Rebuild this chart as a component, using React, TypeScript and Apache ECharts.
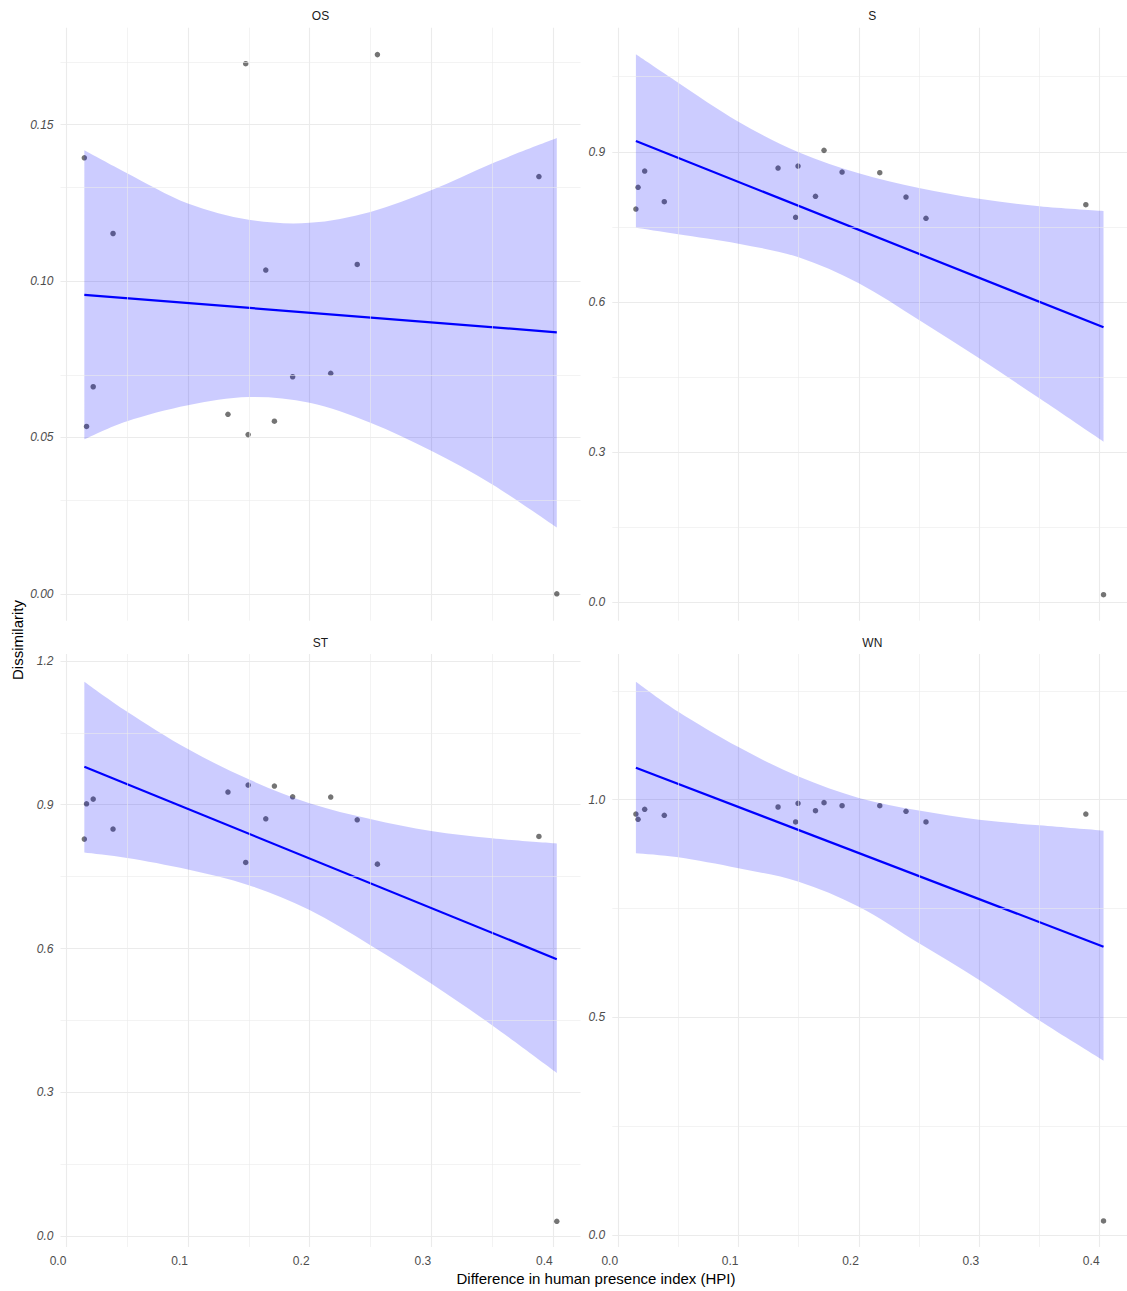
import React, { useEffect, useRef } from 'react';
import * as echarts from 'echarts';

// ---------- data ----------
const xValues = [0.0148, 0.0166, 0.0221, 0.0384, 0.1329, 0.1475, 0.1495, 0.164, 0.1711, 0.1861, 0.2174, 0.2392, 0.2558, 0.3886, 0.4033];

const osValues = [0.1394, 0.0535, 0.0662, 0.1152, 0.0574, 0.1695, 0.0509, 0.1035, 0.0552, 0.0694, 0.0705, 0.1053, 0.1724, 0.1334, 0.0];
const sValues = [0.7855, 0.8289, 0.8615, 0.8001, 0.8675, 0.7689, 0.8715, 0.8109, 0.9028, 0.8595, 0.8581, 0.8095, 0.7669, 0.7941, 0.0146];
const stValues = [0.8283, 0.902, 0.9117, 0.8492, 0.9264, 0.7797, 0.941, 0.8707, 0.9389, 0.9166, 0.9159, 0.8686, 0.7761, 0.8339, 0.0313];
const wnValues = [0.9671, 0.9549, 0.9779, 0.9641, 0.9832, 0.9488, 0.9917, 0.9748, 0.9932, 0.9863, 0.9863, 0.9733, 0.9488, 0.9671, 0.0322];

// confidence band, read at these x positions
const bandX = [0.0148, 0.05, 0.1, 0.15, 0.2, 0.25, 0.3, 0.35, 0.4033];
const osUpper = [0.1418, 0.1345, 0.1248, 0.1196, 0.1186, 0.1221, 0.129, 0.1376, 0.1457];
const osLower = [0.0494, 0.0552, 0.0603, 0.0629, 0.0611, 0.0547, 0.0457, 0.035, 0.0212];
const sUpper = [1.0947, 1.038, 0.96, 0.899, 0.857, 0.8275, 0.806, 0.791, 0.7815];
const sLower = [0.7482, 0.735, 0.716, 0.689, 0.637, 0.5637, 0.4871, 0.4072, 0.3205];
const stUpper = [1.1565, 1.094, 1.016, 0.953, 0.903, 0.87, 0.845, 0.83, 0.8193];
const stLower = [0.8005, 0.789, 0.765, 0.7323, 0.6802, 0.6071, 0.5272, 0.4402, 0.3407];
const wnUpper = [1.2711, 1.2022, 1.121, 1.053, 1.004, 0.975, 0.954, 0.941, 0.9288];
const wnLower = [0.8769, 0.8675, 0.8424, 0.8117, 0.7542, 0.6701, 0.5858, 0.4925, 0.4004];

// fitted lines (endpoints)
const fitX = [0.0148, 0.4033];
const osFit = [0.0956, 0.0836];
const sFit = [0.9214, 0.549];
const stFit = [0.9792, 0.5779];
const wnFit = [1.0735, 0.6623];

// ticks
const xMajor = [0, 0.1, 0.2, 0.3, 0.4];
const xMinor = [0.05, 0.15, 0.25, 0.35];
const osMajor = [0, 0.05, 0.1, 0.15];
const osMinor = [0.025, 0.075, 0.125, 0.175];
const sMajor = [0, 0.3, 0.6, 0.9];
const sMinor = [0.15, 0.45, 0.75, 1.05];
const stMajor = [0, 0.3, 0.6, 0.9, 1.2];
const stMinor = [0.15, 0.45, 0.75, 1.05];
const wnMajor = [0, 0.5, 1.0];
const wnMinor = [0.25, 0.75, 1.25];

const panelNames = ['OS', 'S', 'ST', 'WN'];

const panels = [
  { name: panelNames[0], y: osValues, upper: osUpper, lower: osLower, fit: osFit, yMin: -0.0086, yMax: 0.181, major: osMajor, minor: osMinor, digits: 2 },
  { name: panelNames[1], y: sValues, upper: sUpper, lower: sLower, fit: sFit, yMin: -0.0374, yMax: 1.148, major: sMajor, minor: sMinor, digits: 1 },
  { name: panelNames[2], y: stValues, upper: stUpper, lower: stLower, fit: stFit, yMin: -0.0223, yMax: 1.2143, major: stMajor, minor: stMinor, digits: 1 },
  { name: panelNames[3], y: wnValues, upper: wnUpper, lower: wnLower, fit: wnFit, yMin: -0.0276, yMax: 1.3347, major: wnMajor, minor: wnMinor, digits: 1 },
];

// ---------- layout / style ----------
const FONT = '"Liberation Sans", Arial, sans-serif';
const layout = [
  { left: 60.5, top: 27.7 },
  { left: 612.3, top: 27.7 },
  { left: 60.5, top: 654 },
  { left: 612.3, top: 654 },
];
const GRID_W = 520;
const GRID_H = 593;
const X_MIN = -0.0048;
const X_MAX = 0.4228;
const GRID_COLOR = '#ebebeb';

// smooth path through pixel points (Catmull-Rom as cubic Bezier segments)
function smoothSegments(pts: number[][]): string {
  let d = '';
  for (let i = 0; i < pts.length - 1; i++) {
    const p0 = pts[Math.max(0, i - 1)];
    const p1 = pts[i];
    const p2 = pts[i + 1];
    const p3 = pts[Math.min(pts.length - 1, i + 2)];
    const c1x = p1[0] + (p2[0] - p0[0]) / 6;
    const c1y = p1[1] + (p2[1] - p0[1]) / 6;
    const c2x = p2[0] - (p3[0] - p1[0]) / 6;
    const c2y = p2[1] - (p3[1] - p1[1]) / 6;
    d += ` C ${c1x} ${c1y} ${c2x} ${c2y} ${p2[0]} ${p2[1]}`;
  }
  return d;
}

function buildOption() {
  const grid: any[] = [];
  const xAxis: any[] = [];
  const yAxis: any[] = [];
  const series: any[] = [];
  const graphic: any[] = [];

  panels.forEach((p, i) => {
    const L = layout[i];
    grid.push({ left: L.left, top: L.top, width: GRID_W, height: GRID_H, containLabel: false });
    const bottomRow = i >= 2;
    xAxis.push({
      type: 'value',
      gridIndex: i,
      min: X_MIN,
      max: X_MAX,
      axisLine: { show: false },
      axisTick: { show: false, customValues: xMajor },
      axisLabel: {
        show: bottomRow,
        customValues: xMajor,
        formatter: (v: number) => v.toFixed(1),
        color: '#4d4d4d',
        fontSize: 12,
        fontFamily: FONT,
        margin: 8,
        align: 'right',
      },
      splitLine: { show: true, lineStyle: { color: GRID_COLOR, width: 1.1 } },
    });
    yAxis.push({
      type: 'value',
      gridIndex: i,
      min: p.yMin,
      max: p.yMax,
      axisLine: { show: false },
      axisTick: { show: false, customValues: p.major },
      axisLabel: {
        show: true,
        customValues: p.major,
        formatter: (v: number) => v.toFixed(p.digits),
        color: '#4d4d4d',
        fontSize: 12,
        fontStyle: 'italic',
        fontFamily: FONT,
        margin: 7,
      },
      splitLine: { show: true, lineStyle: { color: GRID_COLOR, width: 1.1 } },
    });

    // minor grid lines
    series.push({
      type: 'line',
      xAxisIndex: i,
      yAxisIndex: i,
      data: [],
      silent: true,
      z: 1,
      markLine: {
        silent: true,
        symbol: ['none', 'none'],
        label: { show: false },
        emphasis: { disabled: true },
        lineStyle: { color: GRID_COLOR, width: 0.6, type: 'solid' },
        data: [...xMinor.map((v) => ({ xAxis: v })), ...p.minor.map((v) => ({ yAxis: v }))],
      },
    });

    // points
    series.push({
      type: 'scatter',
      xAxisIndex: i,
      yAxisIndex: i,
      data: xValues.map((x, j) => [x, p.y[j]]),
      symbolSize: 5.5,
      itemStyle: { color: 'rgba(0,0,0,0.68)' },
      silent: true,
      z: 2,
    });

    // confidence band: one custom item drawing the ribbon from the band arrays
    const upperPts = bandX.map((x, j) => [x, p.upper[j]]);
    const lowerPts = bandX.map((x, j) => [x, p.lower[j]]);
    series.push({
      type: 'custom',
      xAxisIndex: i,
      yAxisIndex: i,
      data: [[bandX[0], p.lower[0]]],
      silent: true,
      clip: true,
      z: 3,
      renderItem: (params: any, api: any) => {
        const up = upperPts.map((pt) => api.coord(pt));
        const lo = lowerPts.map((pt) => api.coord(pt)).reverse();
        const d =
          `M ${up[0][0]} ${up[0][1]}` +
          smoothSegments(up) +
          ` L ${lo[0][0]} ${lo[0][1]}` +
          smoothSegments(lo) +
          ' Z';
        return {
          type: 'path',
          shape: { pathData: d },
          style: { fill: 'rgba(0,0,255,0.2)', stroke: 'none' },
        };
      },
    });

    // fitted line
    series.push({
      type: 'line',
      xAxisIndex: i,
      yAxisIndex: i,
      data: fitX.map((x, j) => [x, p.fit[j]]),
      symbol: 'none',
      lineStyle: { color: '#0000ff', width: 2.2 },
      silent: true,
      z: 4,
    });

    // strip title
    graphic.push({
      type: 'text',
      x: L.left + GRID_W / 2,
      y: L.top - 11.5,
      style: {
        text: p.name,
        fill: '#1a1a1a',
        font: `12px ${FONT}`,
        textAlign: 'center',
        textVerticalAlign: 'middle',
      },
    });
  });

  graphic.push({
    type: 'text',
    x: 17,
    y: 640,
    rotation: Math.PI / 2,
    style: {
      text: 'Dissimilarity',
      fill: '#000000',
      font: `15px ${FONT}`,
      textAlign: 'center',
      textVerticalAlign: 'middle',
    },
  });
  graphic.push({
    type: 'text',
    x: 596,
    y: 1278,
    style: {
      text: 'Difference in human presence index (HPI)',
      fill: '#000000',
      font: `15px ${FONT}`,
      textAlign: 'center',
      textVerticalAlign: 'middle',
    },
  });

  return {
    animation: false,
    backgroundColor: '#ffffff',
    grid,
    xAxis,
    yAxis,
    series,
    graphic,
  };
}

export default function App() {
  const ref = useRef<HTMLDivElement>(null);
  useEffect(() => {
    if (!ref.current) return;
    const chart = echarts.init(ref.current, null, { renderer: 'svg' });
    chart.setOption(buildOption() as any);
    return () => chart.dispose();
  }, []);
  return (
    <div
      ref={ref}
      style={{ position: 'absolute', left: 0, top: 0, width: 1127, height: 1291, background: '#fff' }}
    />
  );
}
